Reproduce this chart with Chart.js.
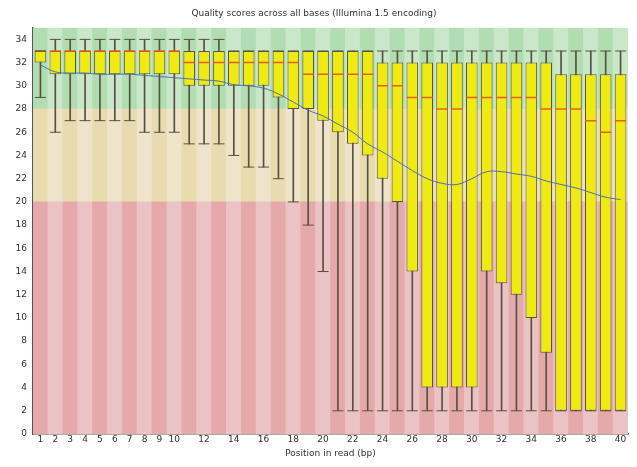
<!DOCTYPE html>
<html>
<head>
<meta charset="utf-8">
<script src="https://cdn.jsdelivr.net/npm/chart.js@4/dist/chart.umd.min.js"></script>
<style>
  html, body { margin: 0; padding: 0; background: #ffffff; }
  #wrap { width: 637px; height: 467px; }
</style>
</head>
<body>
<div id="wrap"><canvas id="grafico"></canvas></div>
<script>
// Posiciones en la lectura (1..40)
const posiciones = ['1','2','3','4','5','6','7','8','9','10','11','12','13','14','15','16','17','18','19','20',
                    '21','22','23','24','25','26','27','28','29','30','31','32','33','34','35','36','37','38','39','40'];

// Percentil 10 (bigote inferior)
const p10 = [29,26,27,27,27,27,27,26,26,26,25,25,25,24,23,23,22,20,18,14,
             2,2,2,2,2,2,2,2,2,2,2,2,2,2,2,2,2,2,2,2];
// Cuartil inferior
const q1 = [32,31,31,31,31,31,31,31,31,31,30,30,30,30,30,30,29,28,28,27,
            26,25,24,22,20,14,4,4,4,4,14,13,12,10,7,2,2,2,2,2];
// Mediana
const mediana = [33,33,33,33,33,33,33,33,33,33,32,32,32,32,32,32,32,32,31,31,
                 31,31,31,30,30,29,29,28,28,29,29,29,29,29,28,28,28,27,26,27];
// Cuartil superior
const q3 = [33,33,33,33,33,33,33,33,33,33,33,33,33,33,33,33,33,33,33,33,
            33,33,33,32,32,32,32,32,32,32,32,32,32,32,32,31,31,31,31,31];
// Percentil 90 (bigote superior)
const p90 = [33,34,34,34,34,34,34,34,34,34,34,34,34,33,33,33,33,33,33,33,
             33,33,33,33,33,33,33,33,33,33,33,33,33,33,33,33,33,33,33,33];
// Media
const media = [31.8,31.2,31.1,31.1,31.0,31.0,31.0,30.9,30.8,30.7,30.6,30.5,30.4,30.1,30.0,29.8,29.3,28.6,27.9,27.4,
               26.7,26.0,25.0,24.3,23.5,22.7,22.0,21.6,21.5,22.0,22.6,22.6,22.4,22.2,21.8,21.5,21.2,20.8,20.4,20.2];

// Franjas de calidad del fondo
const limiteMalo = 20;
const limiteMedio = 28;
const limiteSuperior = 35;

// Etiquetas visibles del eje X
const etiquetasX = ['1','2','3','4','5','6','7','8','9','10','12','14','16','18','20','22','24','26','28','30','32','34','36','38','40'];

const fuente = 'DejaVu Sans';

function franja(desde, hasta, oscuro, claro) {
    return {
        type: 'bar',
        data: posiciones.map(() => [desde, hasta]),
        backgroundColor: ctx => ctx.dataIndex % 2 === 0 ? oscuro : claro,
        barPercentage: 1,
        categoryPercentage: 1,
        grouped: false,
        order: 10
    };
}

function marcas(valores, color, radio, grosor) {
    return {
        type: 'line',
        data: valores,
        showLine: false,
        pointStyle: 'line',
        pointRadius: radio,
        pointBorderColor: color,
        pointBorderWidth: grosor,
        borderColor: color,
        order: 3
    };
}

new Chart(document.getElementById('grafico'), {
    type: 'bar',
    data: {
        labels: posiciones,
        datasets: [
            franja(0, limiteMalo, '#e6a9ab', '#ebc3c5'),
            franja(limiteMalo, limiteMedio, '#e8dbaf', '#efe4c9'),
            franja(limiteMedio, limiteSuperior, '#b2dcb2', '#c9e7c9'),
            {
                // Bigotes
                type: 'bar',
                data: posiciones.map((p, i) => [p10[i], p90[i]]),
                backgroundColor: '#57513f',
                barThickness: 1,
                grouped: false,
                order: 5
            },
            {
                // Cajas intercuartílicas
                type: 'bar',
                data: posiciones.map((p, i) => [q1[i], q3[i]]),
                backgroundColor: '#eeea12',
                borderColor: '#58543a',
                borderWidth: 1,
                borderSkipped: false,
                barPercentage: 0.78,
                categoryPercentage: 1,
                grouped: false,
                order: 4
            },
            marcas(p10, '#57513f', 5.5, 1),
            marcas(p90, '#57513f', 5.5, 1),
            marcas(mediana, '#e3601c', 5.6, 1.5),
            {
                // Media
                type: 'line',
                data: media,
                borderColor: '#4d6eb0',
                borderWidth: 1,
                pointRadius: 0,
                tension: 0.4,
                fill: false,
                order: 1
            }
        ]
    },
    options: {
        responsive: true,
        maintainAspectRatio: false,
        animation: false,
        layout: { padding: { right: 9, bottom: 2 } },
        plugins: {
            legend: { display: false },
            tooltip: { enabled: false },
            title: {
                display: true,
                text: 'Quality scores across all bases (Illumina 1.5 encoding)',
                color: '#333333',
                font: { family: fuente, size: 9, weight: 'normal' },
                padding: { top: 8, bottom: 9 }
            }
        },
        scales: {
            x: {
                grid: { display: false, drawTicks: false },
                border: { color: '#555555', width: 1.5 },
                afterFit: escala => { escala.height = 31; },
                ticks: {
                    autoSkip: false,
                    maxRotation: 0,
                    padding: 0,
                    color: '#333333',
                    font: { family: fuente, size: 9 },
                    callback: function(valor) {
                        const etiqueta = this.getLabelForValue(valor);
                        return etiquetasX.includes(etiqueta) ? etiqueta : '';
                    }
                },
                title: {
                    display: true,
                    text: 'Position in read (bp)',
                    color: '#333333',
                    font: { family: fuente, size: 9 },
                    padding: { top: 0, bottom: 6 }
                }
            },
            y: {
                min: 0,
                max: limiteSuperior,
                grid: { display: false, drawTicks: false },
                border: { color: '#555555', width: 1.5 },
                afterFit: escala => { escala.width = 33; },
                ticks: {
                    stepSize: 2,
                    padding: 6,
                    color: '#333333',
                    font: { family: fuente, size: 9 },
                    callback: v => (v % 2 === 0 && v <= 34) ? v : ''
                }
            }
        }
    }
});
</script>
</body>
</html>
